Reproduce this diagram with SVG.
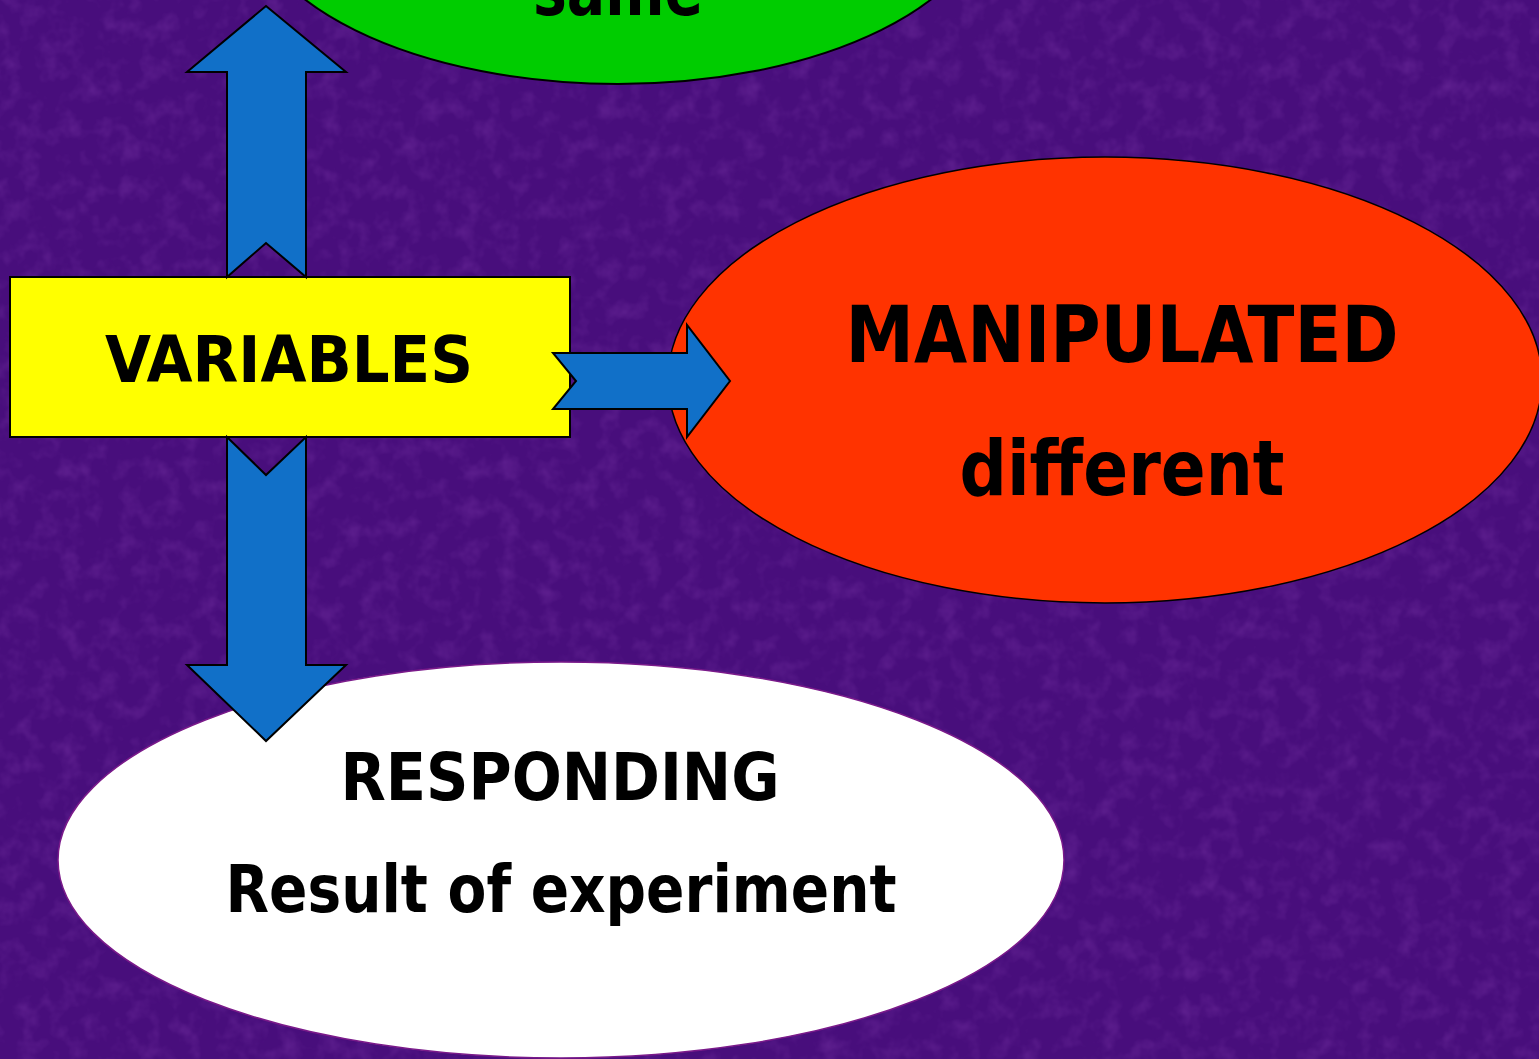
<svg xmlns="http://www.w3.org/2000/svg" width="1539" height="1059" viewBox="0 0 1539 1059">
  <defs>
    <filter id="tex" x="0" y="0" width="100%" height="100%">
      <feTurbulence type="fractalNoise" baseFrequency="0.05" numOctaves="3" seed="7" result="n"/>
      <feColorMatrix in="n" type="matrix" values="0 0 0 0 0.38  0 0 0 0 0.1  0 0 0 0 0.6  0 0 0 1.0 -0.45" result="c"/>
      <feComposite in="c" in2="SourceGraphic" operator="in"/>
    </filter>
    <style>
      .lbl { font-family: "DejaVu Sans Condensed", "DejaVu Sans", sans-serif; font-weight: bold; fill: #000; text-anchor: middle; }
      .arrow { fill: #1170c8; stroke: #000; stroke-width: 2; stroke-linejoin: miter; }
    </style>
  </defs>

  <rect width="1539" height="1059" fill="#480e7c"/>
  <rect width="1539" height="1059" fill="#480e7c" filter="url(#tex)" opacity="0.45"/>

  <g id="node-controlled">
    <ellipse cx="618" cy="-100" rx="372" ry="184" fill="#00cc00" stroke="#000" stroke-width="2"/>
    <text class="lbl" x="618" y="15" font-size="72" textLength="170" lengthAdjust="spacingAndGlyphs">same</text>
  </g>

  <g id="node-manipulated">
    <ellipse cx="1105" cy="380" rx="437" ry="223" fill="#ff3300" stroke="#000" stroke-width="1.5"/>
    <text class="lbl" x="1122" y="362" font-size="78" textLength="553" lengthAdjust="spacingAndGlyphs">MANIPULATED</text>
    <text class="lbl" x="1122" y="495" font-size="76" textLength="325" lengthAdjust="spacingAndGlyphs">different</text>
  </g>

  <g id="node-responding">
    <ellipse cx="561" cy="860" rx="503" ry="198" fill="#ffffff" stroke="#7a1a8a" stroke-width="1.5"/>
    <text class="lbl" x="560" y="800" font-size="66" textLength="439" lengthAdjust="spacingAndGlyphs">RESPONDING</text>
    <text class="lbl" x="561" y="912" font-size="66" textLength="671" lengthAdjust="spacingAndGlyphs">Result of experiment</text>
  </g>

  <g id="node-variables">
    <rect x="10" y="277" width="560" height="160" fill="#ffff00" stroke="#000" stroke-width="2"/>
    <text class="lbl" x="289" y="382" font-size="64" textLength="368" lengthAdjust="spacingAndGlyphs">VARIABLES</text>
  </g>

  <g id="connectors">
    <polygon class="arrow" points="266,6 346,72 306,72 306,277 266,243 227,277 227,72 187,72"/>
    <polygon class="arrow" points="227,437 266,475 306,437 306,665 346,665 266,741 187,665 227,665"/>
    <polygon class="arrow" points="553,353 687,353 687,325 730,381 687,437 687,409 553,409 576,381"/>
  </g>
</svg>
